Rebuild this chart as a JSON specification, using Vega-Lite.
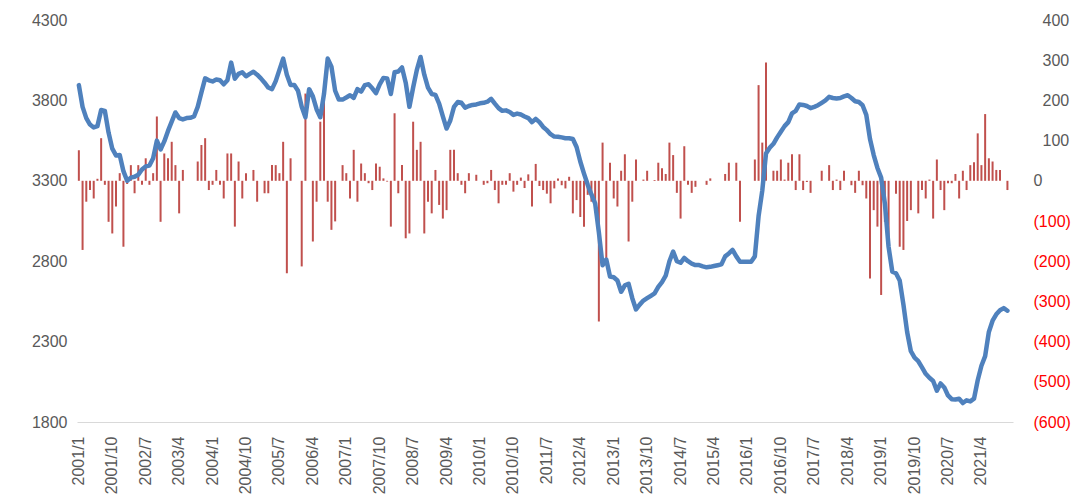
{
  "$schema": "https://vega.github.io/schema/vega-lite/v6.json",
  "width": 936,
  "height": 402,
  "autosize": {"type": "none"},
  "padding": {"left": 77, "top": 20, "right": 63, "bottom": 80},
  "background": "white",
  "config": {
    "view": {"stroke": null},
    "axis": {"labelFont": "Liberation Sans", "labelFontSize": 16, "labelColor": "#595959", "ticks": false, "grid": false, "domain": false, "title": null}
  },
  "data": {"values": [
{"d":"2001/1","p":3895,"c":76},{"d":"2001/2","p":3760,"c":-172},{"d":"2001/3","p":3690,"c":-52},{"d":"2001/4","p":3650,"c":-23},{"d":"2001/5","p":3632,"c":-44},{"d":"2001/6","p":3640,"c":5},{"d":"2001/7","p":3740,"c":106},{"d":"2001/8","p":3735,"c":-10},{"d":"2001/9","p":3600,"c":-102},{"d":"2001/10","p":3500,"c":-131},{"d":"2001/11","p":3458,"c":-64},{"d":"2001/12","p":3460,"c":19},
{"d":"2002/1","p":3360,"c":-164},{"d":"2002/2","p":3300,"c":-8},{"d":"2002/3","p":3320,"c":39},{"d":"2002/4","p":3325,"c":-31},{"d":"2002/5","p":3338,"c":39},{"d":"2002/6","p":3370,"c":-10},{"d":"2002/7","p":3390,"c":56},{"d":"2002/8","p":3395,"c":-10},{"d":"2002/9","p":3440,"c":19},{"d":"2002/10","p":3550,"c":160},{"d":"2002/11","p":3495,"c":-102},{"d":"2002/12","p":3545,"c":68},
{"d":"2003/1","p":3610,"c":56},{"d":"2003/2","p":3668,"c":97},{"d":"2003/3","p":3725,"c":39},{"d":"2003/4","p":3690,"c":-81},{"d":"2003/5","p":3682,"c":27},{"d":"2003/6","p":3690,"c":0},{"d":"2003/7","p":3692,"c":0},{"d":"2003/8","p":3700,"c":0},{"d":"2003/9","p":3760,"c":48},{"d":"2003/10","p":3850,"c":89},{"d":"2003/11","p":3937,"c":106},{"d":"2003/12","p":3925,"c":-23},
{"d":"2004/1","p":3918,"c":-10},{"d":"2004/2","p":3930,"c":27},{"d":"2004/3","p":3925,"c":-10},{"d":"2004/4","p":3900,"c":-44},{"d":"2004/5","p":3925,"c":68},{"d":"2004/6","p":4035,"c":68},{"d":"2004/7","p":3935,"c":-114},{"d":"2004/8","p":3965,"c":48},{"d":"2004/9","p":3975,"c":-44},{"d":"2004/10","p":3950,"c":19},{"d":"2004/11","p":3965,"c":0},{"d":"2004/12","p":3978,"c":27},
{"d":"2005/1","p":3960,"c":-52},{"d":"2005/2","p":3937,"c":0},{"d":"2005/3","p":3910,"c":-31},{"d":"2005/4","p":3880,"c":-31},{"d":"2005/5","p":3870,"c":39},{"d":"2005/6","p":3920,"c":39},{"d":"2005/7","p":3990,"c":19},{"d":"2005/8","p":4060,"c":97},{"d":"2005/9","p":3960,"c":-230},{"d":"2005/10","p":3896,"c":56},{"d":"2005/11","p":3896,"c":0},{"d":"2005/12","p":3860,"c":0},
{"d":"2006/1","p":3760,"c":-213},{"d":"2006/2","p":3695,"c":217},{"d":"2006/3","p":3870,"c":0},{"d":"2006/4","p":3825,"c":-151},{"d":"2006/5","p":3745,"c":-52},{"d":"2006/6","p":3695,"c":147},{"d":"2006/7","p":3840,"c":217},{"d":"2006/8","p":4060,"c":-52},{"d":"2006/9","p":4010,"c":-122},{"d":"2006/10","p":3860,"c":-101},{"d":"2006/11","p":3805,"c":0},{"d":"2006/12","p":3805,"c":39},
{"d":"2007/1","p":3818,"c":19},{"d":"2007/2","p":3832,"c":-44},{"d":"2007/3","p":3815,"c":77},{"d":"2007/4","p":3870,"c":-52},{"d":"2007/5","p":3855,"c":43},{"d":"2007/6","p":3895,"c":19},{"d":"2007/7","p":3900,"c":-6},{"d":"2007/8","p":3875,"c":-23},{"d":"2007/9","p":3845,"c":43},{"d":"2007/10","p":3900,"c":35},{"d":"2007/11","p":3940,"c":6},{"d":"2007/12","p":3937,"c":-2},
{"d":"2008/1","p":3840,"c":-114},{"d":"2008/2","p":3975,"c":168},{"d":"2008/3","p":3980,"c":-31},{"d":"2008/4","p":4005,"c":39},{"d":"2008/5","p":3910,"c":-143},{"d":"2008/6","p":3760,"c":-131},{"d":"2008/7","p":3880,"c":147},{"d":"2008/8","p":3990,"c":77},{"d":"2008/9","p":4070,"c":97},{"d":"2008/10","p":3960,"c":-131},{"d":"2008/11","p":3880,"c":-52},{"d":"2008/12","p":3840,"c":-81},
{"d":"2009/1","p":3834,"c":27},{"d":"2009/2","p":3780,"c":-60},{"d":"2009/3","p":3700,"c":-94},{"d":"2009/4","p":3625,"c":-73},{"d":"2009/5","p":3675,"c":77},{"d":"2009/6","p":3760,"c":77},{"d":"2009/7","p":3790,"c":19},{"d":"2009/8","p":3785,"c":-10},{"d":"2009/9","p":3755,"c":-31},{"d":"2009/10","p":3765,"c":19},{"d":"2009/11","p":3772,"c":0},{"d":"2009/12","p":3775,"c":15},
{"d":"2010/1","p":3782,"c":0},{"d":"2010/2","p":3785,"c":-10},{"d":"2010/3","p":3792,"c":-6},{"d":"2010/4","p":3810,"c":27},{"d":"2010/5","p":3780,"c":-23},{"d":"2010/6","p":3752,"c":-56},{"d":"2010/7","p":3735,"c":-10},{"d":"2010/8","p":3738,"c":-10},{"d":"2010/9","p":3728,"c":19},{"d":"2010/10","p":3710,"c":-27},{"d":"2010/11","p":3718,"c":-10},{"d":"2010/12","p":3712,"c":8},
{"d":"2011/1","p":3700,"c":-18},{"d":"2011/2","p":3690,"c":16},{"d":"2011/3","p":3665,"c":-64},{"d":"2011/4","p":3685,"c":42},{"d":"2011/5","p":3665,"c":-13},{"d":"2011/6","p":3635,"c":-23},{"d":"2011/7","p":3615,"c":-32},{"d":"2011/8","p":3590,"c":-56},{"d":"2011/9","p":3575,"c":-19},{"d":"2011/10","p":3574,"c":6},{"d":"2011/11","p":3570,"c":-11},{"d":"2011/12","p":3565,"c":-19},
{"d":"2012/1","p":3565,"c":10},{"d":"2012/2","p":3560,"c":-81},{"d":"2012/3","p":3510,"c":-48},{"d":"2012/4","p":3420,"c":-90},{"d":"2012/5","p":3345,"c":-114},{"d":"2012/6","p":3275,"c":-35},{"d":"2012/7","p":3215,"c":-52},{"d":"2012/8","p":3160,"c":-73},{"d":"2012/9","p":2980,"c":-350},{"d":"2012/10","p":2775,"c":95},{"d":"2012/11","p":2810,"c":-201},{"d":"2012/12","p":2705,"c":45},
{"d":"2013/1","p":2700,"c":-44},{"d":"2013/2","p":2680,"c":-64},{"d":"2013/3","p":2610,"c":25},{"d":"2013/4","p":2650,"c":66},{"d":"2013/5","p":2660,"c":-151},{"d":"2013/6","p":2570,"c":-52},{"d":"2013/7","p":2500,"c":53},{"d":"2013/8","p":2530,"c":0},{"d":"2013/9","p":2555,"c":3},{"d":"2013/10","p":2570,"c":25},{"d":"2013/11","p":2585,"c":0},{"d":"2013/12","p":2600,"c":2},
{"d":"2014/1","p":2640,"c":45},{"d":"2014/2","p":2670,"c":31},{"d":"2014/3","p":2710,"c":17},{"d":"2014/4","p":2800,"c":95},{"d":"2014/5","p":2860,"c":64},{"d":"2014/6","p":2800,"c":-30},{"d":"2014/7","p":2790,"c":-94},{"d":"2014/8","p":2820,"c":86},{"d":"2014/9","p":2800,"c":-10},{"d":"2014/10","p":2785,"c":-30},{"d":"2014/11","p":2776,"c":-15},{"d":"2014/12","p":2776,"c":0},
{"d":"2015/1","p":2768,"c":0},{"d":"2015/2","p":2762,"c":-10},{"d":"2015/3","p":2765,"c":6},{"d":"2015/4","p":2770,"c":0},{"d":"2015/5","p":2775,"c":0},{"d":"2015/6","p":2780,"c":0},{"d":"2015/7","p":2830,"c":17},{"d":"2015/8","p":2848,"c":45},{"d":"2015/9","p":2870,"c":0},{"d":"2015/10","p":2830,"c":45},{"d":"2015/11","p":2797,"c":-102},{"d":"2015/12","p":2797,"c":0},
{"d":"2016/1","p":2797,"c":0},{"d":"2016/2","p":2797,"c":0},{"d":"2016/3","p":2830,"c":53},{"d":"2016/4","p":3080,"c":238},{"d":"2016/5","p":3240,"c":95},{"d":"2016/6","p":3470,"c":294},{"d":"2016/7","p":3505,"c":0},{"d":"2016/8","p":3530,"c":25},{"d":"2016/9","p":3570,"c":25},{"d":"2016/10","p":3605,"c":53},{"d":"2016/11","p":3640,"c":3},{"d":"2016/12","p":3665,"c":45},
{"d":"2017/1","p":3720,"c":66},{"d":"2017/2","p":3735,"c":-23},{"d":"2017/3","p":3775,"c":66},{"d":"2017/4","p":3772,"c":-23},{"d":"2017/5","p":3765,"c":-3},{"d":"2017/6","p":3752,"c":-30},{"d":"2017/7","p":3760,"c":0},{"d":"2017/8","p":3770,"c":0},{"d":"2017/9","p":3785,"c":25},{"d":"2017/10","p":3800,"c":0},{"d":"2017/11","p":3822,"c":39},{"d":"2017/12","p":3815,"c":-23},
{"d":"2018/1","p":3812,"c":3},{"d":"2018/2","p":3815,"c":-23},{"d":"2018/3","p":3825,"c":25},{"d":"2018/4","p":3832,"c":0},{"d":"2018/5","p":3815,"c":-11},{"d":"2018/6","p":3795,"c":-30},{"d":"2018/7","p":3790,"c":25},{"d":"2018/8","p":3770,"c":-11},{"d":"2018/9","p":3710,"c":-44},{"d":"2018/10","p":3560,"c":-243},{"d":"2018/11","p":3460,"c":-73},{"d":"2018/12","p":3380,"c":-114},
{"d":"2019/1","p":3320,"c":-284},{"d":"2019/2","p":3160,"c":-102},{"d":"2019/3","p":2890,"c":-152},{"d":"2019/4","p":2735,"c":0},{"d":"2019/5","p":2725,"c":-32},{"d":"2019/6","p":2680,"c":-164},{"d":"2019/7","p":2530,"c":-172},{"d":"2019/8","p":2360,"c":-100},{"d":"2019/9","p":2240,"c":-73},{"d":"2019/10","p":2200,"c":0},{"d":"2019/11","p":2178,"c":-81},{"d":"2019/12","p":2140,"c":-23},
{"d":"2020/1","p":2100,"c":-44},{"d":"2020/2","p":2075,"c":3},{"d":"2020/3","p":2055,"c":-94},{"d":"2020/4","p":1995,"c":53},{"d":"2020/5","p":2040,"c":-23},{"d":"2020/6","p":2015,"c":-73},{"d":"2020/7","p":1965,"c":-6},{"d":"2020/8","p":1942,"c":-6},{"d":"2020/9","p":1940,"c":17},{"d":"2020/10","p":1945,"c":-44},{"d":"2020/11","p":1918,"c":25},{"d":"2020/12","p":1935,"c":-23},
{"d":"2021/1","p":1928,"c":39},{"d":"2021/2","p":1945,"c":46},{"d":"2021/3","p":2060,"c":118},{"d":"2021/4","p":2150,"c":39},{"d":"2021/5","p":2210,"c":166},{"d":"2021/6","p":2360,"c":56},{"d":"2021/7","p":2430,"c":48},{"d":"2021/8","p":2470,"c":27},{"d":"2021/9","p":2495,"c":27},{"d":"2021/10","p":2508,"c":0},{"d":"2021/11","p":2492,"c":-23}
  ]},
  "encoding": {
    "x": {
      "field": "d", "type": "ordinal", "sort": null,
      "scale": {"paddingInner": 0, "paddingOuter": 0.5, "align": 0},
      "axis": {
        "values": ["2001/1","2001/10","2002/7","2003/4","2004/1","2004/10","2005/7","2006/4","2007/1","2007/10","2008/7","2009/4","2010/1","2010/10","2011/7","2012/4","2013/1","2013/10","2014/7","2015/4","2016/1","2016/10","2017/7","2018/4","2019/1","2019/10","2020/7","2021/4"],
        "labelAngle": -90, "labelPadding": 14, "domain": true, "domainColor": "#d9d9d9", "domainWidth": 1
      }
    }
  },
  "layer": [
    {
      "mark": {"type": "bar", "color": "#c0504d", "width": 2},
      "encoding": {
        "y": {
          "field": "c", "type": "quantitative",
          "scale": {"domain": [-600, 400], "nice": false},
          "axis": {
            "orient": "right",
            "values": [-600, -500, -400, -300, -200, -100, 0, 100, 200, 300, 400],
            "labelExpr": "datum.value < 0 ? '(' + format(-datum.value, 'd') + ')' : format(datum.value, 'd')",
            "labelColor": {"condition": {"test": "datum.value < 0", "value": "#ff0000"}, "value": "#595959"},
            "labelPadding": {"condition": {"test": "datum.value > 0", "value": 29}, "value": 20}
          }
        }
      }
    },
    {
      "mark": {"type": "line", "color": "#4f81bd", "strokeWidth": 4.5, "strokeJoin": "round", "strokeCap": "round"},
      "encoding": {
        "y": {
          "field": "p", "type": "quantitative",
          "scale": {"domain": [1800, 4300], "nice": false, "zero": false},
          "axis": {"orient": "left", "values": [1800, 2300, 2800, 3300, 3800, 4300], "labelPadding": 10, "format": "d"}
        }
      }
    }
  ],
  "resolve": {"scale": {"y": "independent"}}
}
